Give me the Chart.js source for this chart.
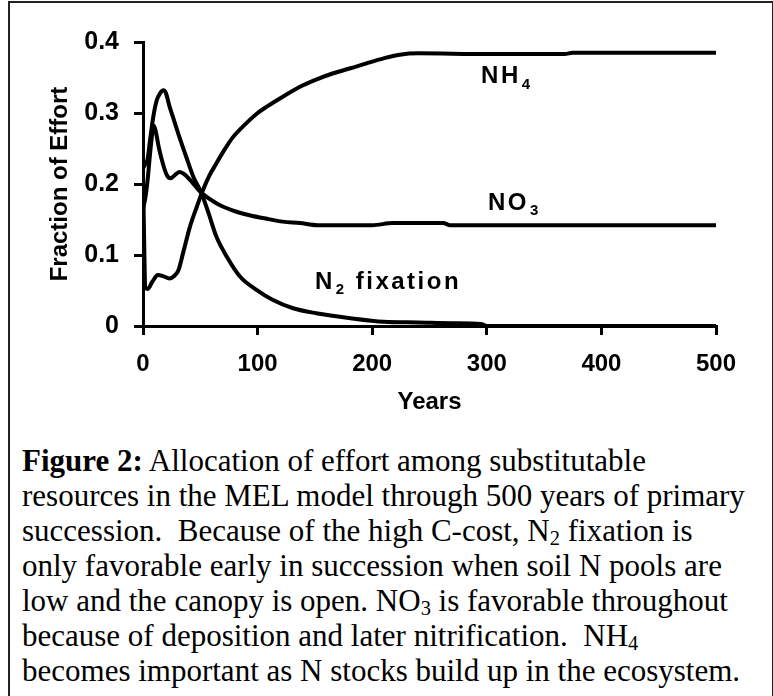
<!DOCTYPE html>
<html>
<head>
<meta charset="utf-8">
<script src="https://cdn.jsdelivr.net/npm/chart.js@4.4.0/dist/chart.umd.min.js"></script>
<style>
body { margin: 0; background: #fff; }
#frame { position: absolute; left: 8px; top: 1px; width: 762px; height: 740px; border: 2px solid #222; }
#chart-box { position: absolute; left: 0; top: 0; width: 773px; height: 420px; }
#caption { position: absolute; left: 22px; top: 443px; font-family: "Liberation Serif", "Times New Roman", serif; font-size: 31px; line-height: 35px; white-space: pre; color: #000; }
#caption sub { font-size: 0.66em; vertical-align: -0.18em; line-height: 0; }
</style>
</head>
<body>
<div id="frame"></div>
<div id="chart-box"><canvas id="chart"></canvas></div>
<div id="caption"><b>Figure 2:</b> Allocation of effort among substitutable
resources in the MEL model through 500 years of primary
succession.  Because of the high C-cost, N<sub>2</sub> fixation is
only favorable early in succession when soil N pools are
low and the canopy is open. NO<sub>3</sub> is favorable throughout
because of deposition and later nitrification.  NH<sub>4</sub>
becomes important as N stocks build up in the ecosystem.</div>
<script>
// values (years, fraction of effort)
const nh4Years = [0, 1, 2, 4, 8, 13, 18, 23, 27, 31, 35, 41, 47, 52, 58, 64, 71, 78, 86, 93, 100, 108, 122, 137, 151, 166, 181, 195, 210, 224, 240, 300, 368, 375, 500]
const nh4Values = [0.215, 0.12, 0.054, 0.052, 0.062, 0.072, 0.07, 0.067, 0.07, 0.079, 0.103, 0.14, 0.168, 0.19, 0.212, 0.229, 0.248, 0.265, 0.279, 0.29, 0.3, 0.309, 0.323, 0.337, 0.347, 0.356, 0.363, 0.37, 0.377, 0.382, 0.384, 0.383, 0.383, 0.385, 0.385]

const no3Years = [0, 2, 4, 6, 8, 9.5, 11, 14, 18, 21, 24, 28, 32, 36, 42, 50, 64, 78, 93, 108, 122, 137, 152, 200, 218, 262, 268, 500]
const no3Values = [0.165, 0.18, 0.205, 0.24, 0.27, 0.282, 0.275, 0.25, 0.225, 0.212, 0.208, 0.213, 0.217, 0.214, 0.204, 0.189, 0.173, 0.163, 0.156, 0.151, 0.147, 0.145, 0.142, 0.142, 0.145, 0.145, 0.142, 0.142]

const n2Years = [0, 2, 4, 6, 9, 12, 15, 17.7, 20, 23, 27, 32, 38, 44, 51, 57, 64, 73, 85, 99, 113, 131, 151, 181, 210, 240, 270, 295, 300, 500]
const n2Values = [0.222, 0.228, 0.235, 0.26, 0.295, 0.318, 0.328, 0.332, 0.328, 0.31, 0.29, 0.265, 0.237, 0.21, 0.187, 0.16, 0.126, 0.098, 0.069, 0.051, 0.037, 0.025, 0.018, 0.011, 0.006, 0.005, 0.004, 0.003, 0, 0]

const xTicks = [0, 100, 200, 300, 400, 500]
const yTicks = [0, 0.1, 0.2, 0.3, 0.4]

// curve labels: text pieces and where they sit (data units)
const curveLabels = [
    { text: "NH", sub: "4", tail: "", x: 295, y: 0.351 },
    { text: "NO", sub: "3", tail: "", x: 301, y: 0.173 },
    { text: "N", sub: "2", tail: " fixation", x: 150, y: 0.062 }
]

const toPoints = (xs, ys) => xs.map((x, i) => ({ x: x, y: ys[i] }))

const sans = "'Liberation Sans', Arial, sans-serif"

const labelPlugin = {
    id: "curveLabels",
    afterDatasetsDraw(chart) {
        const ctx = chart.ctx
        const xs = chart.scales.x
        const ys = chart.scales.y
        ctx.save()
        ctx.fillStyle = "#000"
        ctx.textBaseline = "middle"
        ctx.textAlign = "left"
        if ("letterSpacing" in ctx) ctx.letterSpacing = "2.5px"
        curveLabels.forEach(l => {
            let px = xs.getPixelForValue(l.x)
            const py = ys.getPixelForValue(l.y)
            ctx.font = "bold 24px " + sans
            ctx.fillText(l.text, px, py)
            px += ctx.measureText(l.text).width + 1
            ctx.font = "bold 15px " + sans
            ctx.fillText(l.sub, px, py + 8)
            px += ctx.measureText(l.sub).width
            if (l.tail) {
                ctx.font = "bold 24px " + sans
                ctx.fillText(l.tail, px, py)
            }
        })
        ctx.restore()
    }
}

const lineStyle = {
    borderColor: "#000",
    borderWidth: 4,
    pointRadius: 0,
    fill: false,
    cubicInterpolationMode: "monotone"
}

new Chart(document.querySelector("#chart"), {
    type: "line",
    data: {
        datasets: [
            { label: "NH4", data: toPoints(nh4Years, nh4Values), ...lineStyle },
            { label: "NO3", data: toPoints(no3Years, no3Values), ...lineStyle },
            { label: "N2 fixation", data: toPoints(n2Years, n2Values), ...lineStyle }
        ]
    },
    options: {
        responsive: true,
        maintainAspectRatio: false,
        animation: false,
        devicePixelRatio: 1,
        layout: { padding: { left: 0, top: 42, right: 57, bottom: 0 } },
        plugins: { legend: { display: false }, tooltip: { enabled: false } },
        scales: {
            x: {
                type: "linear",
                min: 0,
                max: 500,
                afterBuildTicks: s => { s.ticks = xTicks.map(v => ({ value: v })) },
                afterFit: s => { s.height = 94 },
                ticks: { color: "#000", padding: 15, maxRotation: 0, font: { family: sans, size: 24, weight: "bold" } },
                grid: { drawOnChartArea: false, drawTicks: true, tickLength: 9, color: "#000", lineWidth: 3 },
                border: { display: true, color: "#000", width: 3 },
                title: { display: true, text: "Years", color: "#000", padding: { top: 0, bottom: 3 }, font: { family: sans, size: 24, weight: "bold" } }
            },
            y: {
                min: 0,
                max: 0.4,
                afterBuildTicks: s => { s.ticks = yTicks.map(v => ({ value: v })) },
                afterFit: s => { s.width = 143 },
                ticks: {
                    color: "#000",
                    padding: 15,
                    font: { family: sans, size: 25, weight: "bold" },
                    callback: v => v === 0 ? "0" : v.toFixed(1)
                },
                grid: { drawOnChartArea: false, drawTicks: true, tickLength: 9, color: "#000", lineWidth: 3 },
                border: { display: true, color: "#000", width: 3 },
                title: { display: true, text: "Fraction of Effort", color: "#000", padding: { top: 46, bottom: 0 }, font: { family: sans, size: 24, weight: "bold" } }
            }
        }
    },
    plugins: [labelPlugin]
})
</script>
</body>
</html>
